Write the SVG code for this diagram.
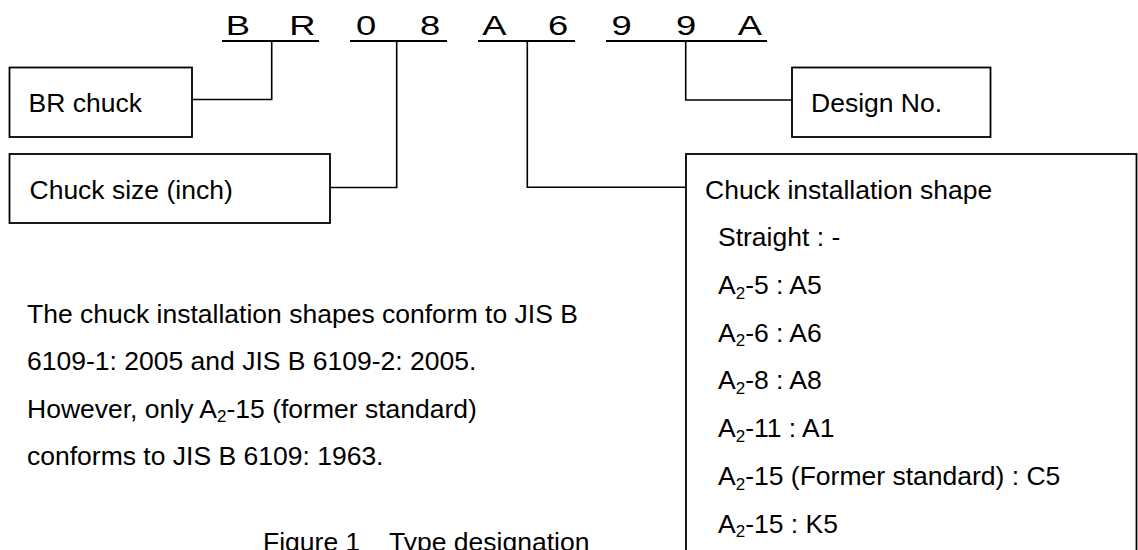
<svg xmlns="http://www.w3.org/2000/svg" width="1138" height="550" viewBox="0 0 1138 550">
<style>
.t{font-family:"Liberation Sans",Arial,sans-serif;font-size:26.5px;fill:#000}
.c{font-family:"Liberation Sans",Arial,sans-serif;font-size:28px;fill:#000;text-anchor:middle}
.sub{font-size:17px}
.box{fill:none;stroke:#000;stroke-width:1.8}
.ln{fill:none;stroke:#000;stroke-width:1.6}
.ul{fill:none;stroke:#000;stroke-width:2}
</style>
<rect width="1138" height="550" fill="#fff"/>
<g id="code">
<text class="c" transform="translate(238,35) scale(1.3,1)">B</text>
<text class="c" transform="translate(302.5,35) scale(1.3,1)">R</text>
<text class="c" transform="translate(366,35) scale(1.3,1)">0</text>
<text class="c" transform="translate(430,35) scale(1.3,1)">8</text>
<text class="c" transform="translate(494.5,35) scale(1.3,1)">A</text>
<text class="c" transform="translate(558,35) scale(1.3,1)">6</text>
<text class="c" transform="translate(621.7,35) scale(1.3,1)">9</text>
<text class="c" transform="translate(686,35) scale(1.3,1)">9</text>
<text class="c" transform="translate(750,35) scale(1.3,1)">A</text>
<path class="ul" d="M222,41H319M350,41H447M478,41H575M606,41H767"/>
</g>
<g id="connectors">
<path class="ln" d="M192,99.5H271.7V41"/>
<path class="ln" d="M330,187.5H396.7V41"/>
<path class="ln" d="M527.3,41V187.3H686"/>
<path class="ln" d="M685.7,41V100H792"/>
</g>
<g id="br-chuck">
<rect class="box" x="9.5" y="67.5" width="182.5" height="69.5"/>
<text class="t" x="28.5" y="112">BR chuck</text>
</g>
<g id="chuck-size">
<rect class="box" x="9.5" y="154" width="320.5" height="69"/>
<text class="t" x="29.5" y="198.5">Chuck size (inch)</text>
</g>
<g id="design-no">
<rect class="box" x="792" y="67.5" width="198.5" height="69.5"/>
<text class="t" x="811" y="112">Design No.</text>
</g>
<g id="installation-shape">
<rect class="box" x="686" y="154" width="450.5" height="420"/>
<text class="t" x="705" y="198.5">Chuck installation shape</text>
<text class="t" x="718" y="246">Straight : -</text>
<text class="t" x="718" y="294">A<tspan class="sub" dy="4.5">2</tspan><tspan dy="-4.5">-5 : A5</tspan></text>
<text class="t" x="718" y="341.7">A<tspan class="sub" dy="4.5">2</tspan><tspan dy="-4.5">-6 : A6</tspan></text>
<text class="t" x="718" y="389.3">A<tspan class="sub" dy="4.5">2</tspan><tspan dy="-4.5">-8 : A8</tspan></text>
<text class="t" x="718" y="437.3">A<tspan class="sub" dy="4.5">2</tspan><tspan dy="-4.5">-11 : A1</tspan></text>
<text class="t" x="718" y="485">A<tspan class="sub" dy="4.5">2</tspan><tspan dy="-4.5">-15 (Former standard) : C5</tspan></text>
<text class="t" x="718" y="532.7">A<tspan class="sub" dy="4.5">2</tspan><tspan dy="-4.5">-15 : K5</tspan></text>
</g>
<g id="note">
<text class="t" x="27" y="322.7">The chuck installation shapes conform to JIS B</text>
<text class="t" x="27" y="370">6109-1: 2005 and JIS B 6109-2: 2005.</text>
<text class="t" x="27" y="417.5">However, only A<tspan class="sub" dy="4.5">2</tspan><tspan dy="-4.5">-15 (former standard)</tspan></text>
<text class="t" x="27" y="465">conforms to JIS B 6109: 1963.</text>
</g>
<g id="caption">
<text class="t" x="263" y="551">Figure 1<tspan x="389">Type designation</tspan></text>
</g>
</svg>
